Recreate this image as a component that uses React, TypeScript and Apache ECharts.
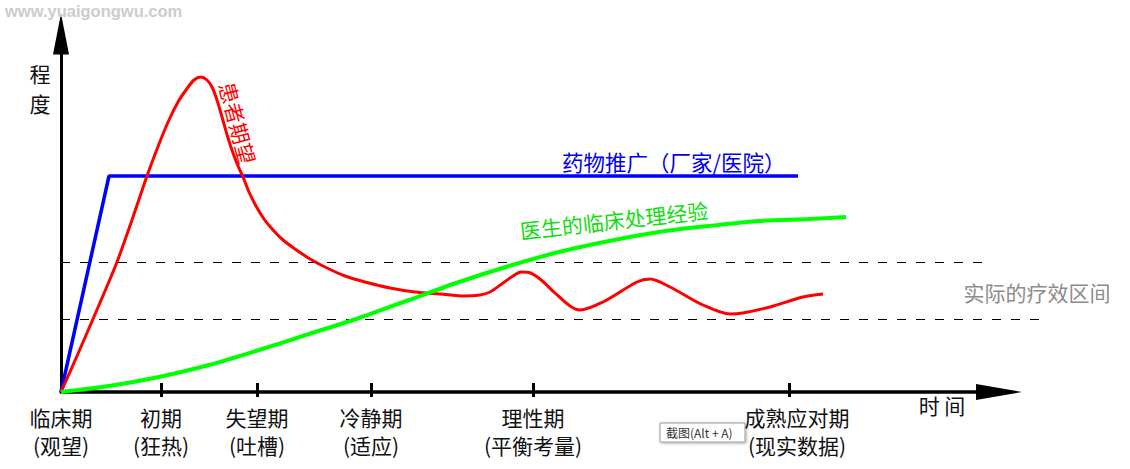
import React, { useEffect, useRef } from 'react';
import * as echarts from 'echarts';

// Axis stages (time axis), positions in time units
const stageTicks = [100, 196, 310, 472, 728];
const stageLabelPos = [0, 100, 196, 310, 472, 736];
const stageNames = ['临床期', '初期', '失望期', '冷静期', '理性期', '成熟应对期'];
const stageNotes = ['(观望)', '(狂热)', '(吐槽)', '(适应)', '(平衡考量)', '(现实数据)'];

// Drug promotion (blue)
const promoX = [0, 48, 737];
const promoY = [0, 216, 216];

// Patient expectation (red)
const expectX = [0, 16, 32, 44, 56, 71, 86, 98, 108, 117, 125, 133, 140, 146, 151, 155, 159, 163, 167, 172, 177, 182, 188, 195, 203, 212, 222, 234, 249, 266, 284, 304, 329, 354, 379, 404, 419, 429, 442, 452, 460, 468, 479, 494, 509, 519, 542, 576, 589, 609, 642, 669, 682, 709, 742, 762];
const expectY = [0, 36, 73, 101, 130, 172, 216, 248, 272, 290, 302, 312, 315, 312, 305, 295, 282, 268, 254, 239, 226, 215, 200, 186, 173, 162, 152, 143, 133, 124, 116, 110, 104, 100, 98, 96, 97, 100, 109, 116, 120, 119.5, 113, 99, 86, 82, 90, 110, 113, 105, 87, 78, 79, 85, 95, 98];

// Doctor's clinical experience (green)
const expX = [0, 48, 98, 148, 198, 248, 298, 348, 398, 448, 498, 548, 598, 648, 698, 748, 785];
const expY = [0, 6, 15, 27, 42, 58, 74, 92, 110, 126, 140, 151, 160, 166, 171, 173, 175];

// Effective range (dashed), upper and lower bounds
const rangeUpperY = 129.5;
const rangeUpperEnd = 927;
const rangeLowerY = 72.5;
const rangeLowerEnd = 987;

const X_MAX = 938;
const Y_MAX = 358;
const CJK = '"Noto Sans CJK SC", "Microsoft YaHei", sans-serif';

const zip = (xs: number[], ys: number[]) => xs.map((x, i) => [x, ys[i]]);

export default function App() {
  const ref = useRef<HTMLDivElement>(null);
  useEffect(() => {
    const chart = echarts.init(ref.current!, null, { renderer: 'svg' });
    const hiddenAxis = { axisLine: { show: false }, axisTick: { show: false }, axisLabel: { show: false }, splitLine: { show: false } };
    const option: any = {
      animation: false,
      backgroundColor: '#ffffff',
      grid: [
        { left: 61, top: 34, width: 938, height: 358, outerBoundsMode: 'none', containLabel: false },
        { left: 61, top: 34, width: rangeLowerEnd, height: 358, outerBoundsMode: 'none', containLabel: false },
      ],
      xAxis: [
        {
          type: 'value', min: 0, max: X_MAX, position: 'bottom', gridIndex: 0,
          axisLine: { show: true, onZero: true, symbol: ['none', 'triangle'], symbolSize: [16, 46], lineStyle: { color: '#000', width: 3.5 } },
          axisTick: { show: true, inside: true, length: 9, customValues: stageTicks, lineStyle: { color: '#000', width: 3 } },
          axisLabel: {
            show: true, customValues: stageLabelPos, margin: 11,
            fontSize: 21, lineHeight: 28, color: '#111', fontFamily: CJK,
            formatter: (v: number) => {
              const i = stageLabelPos.indexOf(v);
              return i >= 0 ? stageNames[i] + '\n' + stageNotes[i] : '';
            },
          },
          splitLine: { show: false },
        },
        {
          type: 'value', min: 0, max: X_MAX, position: 'bottom', gridIndex: 0,
          axisLine: { show: false },
          axisTick: { show: true, inside: false, length: 5, customValues: stageTicks, lineStyle: { color: '#000', width: 3 } },
          axisLabel: { show: false },
          splitLine: { show: false },
        },
        { type: 'value', min: 0, max: rangeLowerEnd, gridIndex: 1, ...hiddenAxis },
      ],
      yAxis: [
        {
          type: 'value', min: 0, max: Y_MAX, gridIndex: 0,
          axisLine: { show: true, symbol: ['none', 'triangle'], symbolSize: [16, 41], lineStyle: { color: '#000', width: 3 } },
          axisTick: { show: false },
          axisLabel: { show: false },
          splitLine: { show: false },
        },
        { type: 'value', min: 0, max: Y_MAX, gridIndex: 1, ...hiddenAxis },
      ],
      series: [
        {
          type: 'line', name: 'upper', xAxisIndex: 2, yAxisIndex: 1,
          data: [[0, rangeUpperY], [rangeUpperEnd, rangeUpperY]],
          symbol: 'none', silent: true, z: 1,
          lineStyle: { color: '#000', width: 1, type: [9, 10] },
        },
        {
          type: 'line', name: 'lower', xAxisIndex: 2, yAxisIndex: 1,
          data: [[0, rangeLowerY], [rangeLowerEnd, rangeLowerY]],
          symbol: 'none', silent: true, z: 1,
          lineStyle: { color: '#000', width: 1, type: [9, 10] },
        },
        {
          type: 'line', name: '药物推广', data: zip(promoX, promoY), symbol: 'none', z: 2,
          lineStyle: { color: '#0000ff', width: 3.5 },
        },
        {
          type: 'line', name: '患者期望', data: zip(expectX, expectY), symbol: 'none', smooth: 0.3, z: 3,
          lineStyle: { color: '#ff0000', width: 3 },
        },
        {
          type: 'line', name: '医生的临床处理经验', data: zip(expX, expY), symbol: 'none', smooth: 0.3, z: 4,
          lineStyle: { color: '#00ff00', width: 4 },
        },
      ],
      graphic: [
        { type: 'text', x: 5, y: 11, z: 50, style: { text: 'www.yuaigongwu.com', fill: '#cccccc', fontSize: 16.5, fontWeight: 'bold', fontFamily: '"Liberation Sans", Arial, sans-serif', align: 'left', verticalAlign: 'middle' } },
        { type: 'text', x: 40, y: 88, z: 50, style: { text: '程\n度', fill: '#111', fontSize: 21, lineHeight: 30, fontFamily: CJK, align: 'center', verticalAlign: 'middle' } },
        { type: 'text', x: 942, y: 405, z: 50, style: { text: '时 间', fill: '#111', fontSize: 21, fontFamily: CJK, align: 'center', verticalAlign: 'middle' } },
        { type: 'text', x: 562, y: 161, z: 50, style: { text: '药物推广（厂家/医院）', fill: '#0000ee', fontSize: 21.5, fontFamily: CJK, align: 'left', verticalAlign: 'middle' } },
        { type: 'text', x: 614, y: 220, rotation: 0.11, z: 50, style: { text: '医生的临床处理经验', fill: '#11dd11', fontSize: 21, fontFamily: CJK, align: 'center', verticalAlign: 'middle' } },
        { type: 'text', x: 238, y: 123, rotation: -1.31, z: 50, style: { text: '患者期望', fill: '#ff0000', fontSize: 21, fontFamily: CJK, align: 'center', verticalAlign: 'middle' } },
        { type: 'text', x: 1037, y: 292, z: 50, style: { text: '实际的疗效区间', fill: '#8c8c8c', fontSize: 21, fontFamily: CJK, align: 'center', verticalAlign: 'middle' } },
        {
          type: 'group', x: 660, y: 423, z: 100,
          children: [
            { type: 'rect', shape: { x: 0, y: 0, width: 85, height: 19 }, style: { fill: '#ffffff', stroke: '#9a9a9a', lineWidth: 1, shadowBlur: 3, shadowOffsetX: 1, shadowOffsetY: 1, shadowColor: 'rgba(0,0,0,0.3)' } },
            { type: 'text', x: 6, y: 9.5, style: { text: '截图(Alt + A)', fill: '#333', fontSize: 12, fontFamily: CJK, align: 'left', verticalAlign: 'middle' } },
          ],
        },
      ],
    };
    chart.setOption(option);
    return () => chart.dispose();
  }, []);
  return <div ref={ref} style={{ position: 'absolute', left: 0, top: 0, width: 1130, height: 469, background: '#fff' }} />;
}
